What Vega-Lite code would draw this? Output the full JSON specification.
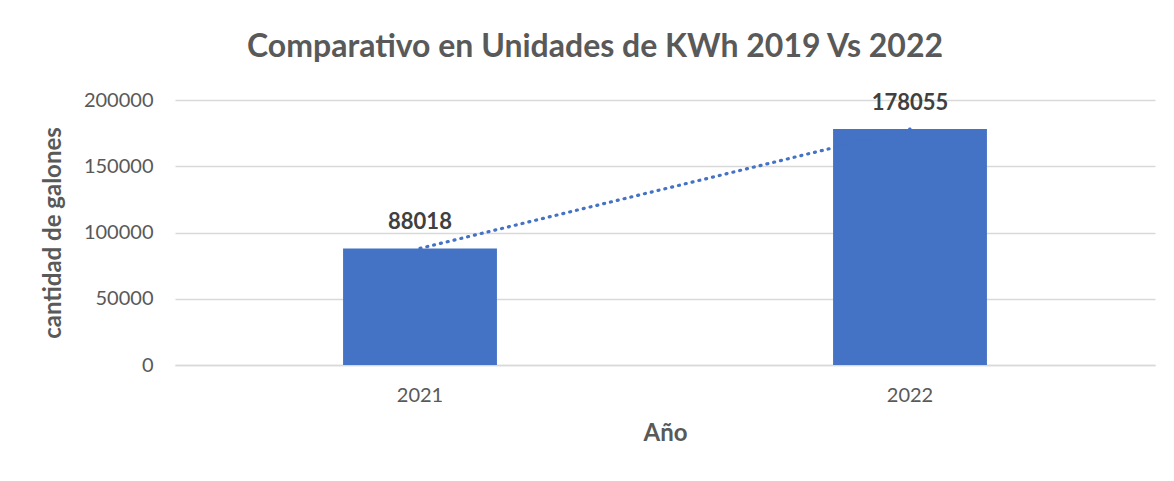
{
  "$schema": "https://vega.github.io/schema/vega-lite/v6.json",
  "width": 980,
  "height": 265,
  "autosize": {"type": "none"},
  "padding": {"left": 175, "top": 100, "right": 19, "bottom": 116},
  "background": "white",
  "data": {"values": [
    {"year": "2021", "value": 88018},
    {"year": "2022", "value": 178055}
  ]},
  "title": {
    "text": "Comparativo en Unidades de KWh 2019 Vs 2022",
    "font": "Lato",
    "fontSize": 32,
    "fontWeight": "bold",
    "color": "#595959",
    "anchor": "middle",
    "dx": -70,
    "offset": 26
  },
  "config": {
    "view": {"stroke": null},
    "axis": {"labelFont": "Lato", "titleFont": "Lato", "labelColor": "#595959", "titleColor": "#595959"}
  },
  "encoding": {
    "x": {
      "field": "year", "type": "nominal",
      "scale": {"paddingInner": 0.686, "paddingOuter": 0.343},
      "axis": {"title": "Año", "labelAngle": 0, "labelFontSize": 20, "labelPadding": 20, "ticks": false,
               "domainColor": "#d9d9d9", "domainWidth": 1.5, "titleFontSize": 24, "titleFontWeight": "bold", "titlePadding": 16}
    },
    "y": {
      "field": "value", "type": "quantitative",
      "scale": {"domain": [0, 200000]},
      "axis": {"title": "cantidad de galones", "values": [0, 50000, 100000, 150000, 200000], "format": "d",
               "labelFontSize": 20, "labelPadding": 22, "ticks": false, "domain": false,
               "gridColor": "#d9d9d9", "gridWidth": 1.5,
               "titleFontSize": 24, "titleFontWeight": "bold", "titlePadding": 18}
    }
  },
  "layer": [
    {"mark": {"type": "bar", "color": "#4472C4"}},
    {"mark": {"type": "line", "color": "#4472C4", "strokeWidth": 3.2, "strokeDash": [1, 6], "strokeCap": "round"}},
    {"mark": {"type": "text", "baseline": "bottom", "dy": -14, "font": "Lato", "fontSize": 22, "fontWeight": "bold", "color": "#404040"},
     "encoding": {"text": {"field": "value", "type": "quantitative", "format": "d"}}}
  ]
}
